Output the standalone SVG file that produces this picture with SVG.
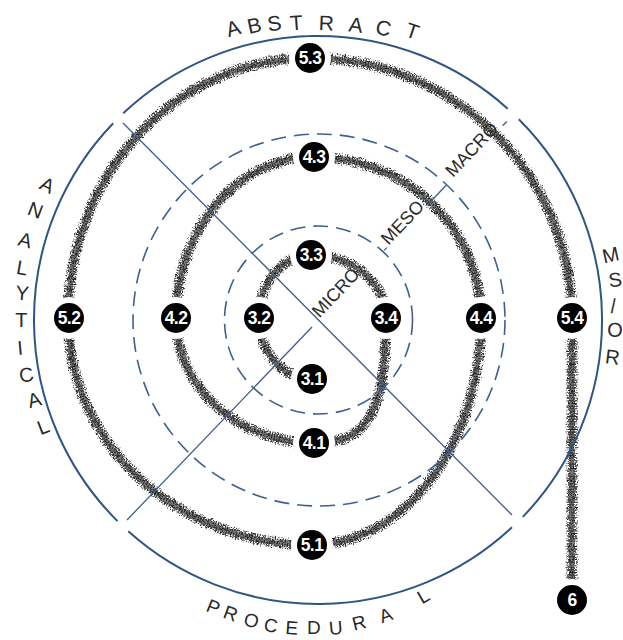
<svg xmlns="http://www.w3.org/2000/svg" xmlns:xlink="http://www.w3.org/1999/xlink" width="623" height="640" viewBox="0 0 623 640">
<style>
.ring{fill:none;stroke:#2f5584;stroke-width:2}
.diag{fill:none;stroke:#3d5f8c;stroke-width:1.3}
.dash{fill:none;stroke:#3e6090;stroke-width:1.6;stroke-dasharray:15 8}
.sp1{fill:none;stroke:#7a7a7a;stroke-width:6}
.sp2{fill:none;stroke:#262626;stroke-width:11;stroke-dasharray:1.1 1.5}
.lbl{font-family:"Liberation Sans",Arial,sans-serif;fill:#2a2a2a}
.node circle{fill:#000;stroke:#fff;stroke-width:12;paint-order:stroke}
.node text{font-family:"Liberation Sans",Arial,sans-serif;font-weight:bold;font-size:17.5px;fill:#fff;text-anchor:middle;letter-spacing:-0.6px}
</style>
<defs>
<filter id="rough" x="-10%" y="-10%" width="120%" height="120%">
<feTurbulence type="fractalNoise" baseFrequency="0.7" numOctaves="2" seed="3" result="n"/>
<feDisplacementMap in="SourceGraphic" in2="n" scale="4.5" xChannelSelector="R" yChannelSelector="G"/>
</filter>
<path id="spiral" d="M312,379 A53,61 0 0 1 259,318 A52,63 0 0 1 311,255 A75,63 0 0 1 386,318 C386,412 368,443 314,443 A138,125 0 0 1 176,318 A138,161 0 0 1 314,157 A167,161 0 0 1 481,318 A169,227 0 0 1 312,545 A244,227 0 0 1 68,318 A242,260 0 0 1 310,58 A262,260 0 0 1 572,318 L572,600"/>
</defs>
<rect width="623" height="640" fill="#fff"/>

<g id="connectors">
<g filter="url(#rough)">
<use xlink:href="#spiral" class="sp1"/>
<use xlink:href="#spiral" class="sp2"/>
</g>
</g>

<g id="frame">
<path class="ring" d="M123.2,113.3 A284,284 0 0 1 507.7,108.7"/>
<path class="ring" d="M518.8,119.2 A284,284 0 0 1 522.8,516.9"/>
<path class="ring" d="M512,527.3 A284,284 0 0 1 128.3,531.3"/>
<path class="ring" d="M117.5,521.1 A284,284 0 0 1 113.2,123.2"/>
<circle class="dash" cx="318.5" cy="320" r="94"/>
<circle class="dash" cx="319" cy="320" r="186"/>
<line class="diag" x1="123" y1="123" x2="512" y2="515"/>
<line class="diag" x1="127" y1="520" x2="312" y2="327"/>
<line class="diag" x1="384.1" y1="250.4" x2="386.9" y2="247.6"/>
<line class="diag" x1="427.6" y1="204.8" x2="446.2" y2="185.2"/>
<line class="diag" x1="502.7" y1="125.8" x2="506.8" y2="121.5"/>
</g>

<g id="scale-labels" class="lbl" font-size="18">
<text transform="translate(319.4,318.6) rotate(-46.4)">MICRO</text>
<text transform="translate(388.6,245.7) rotate(-46.4)">MESO</text>
<text transform="translate(453,178) rotate(-46.4)">MACRO</text>
</g>

<g id="side-labels" class="lbl">
<text font-size="21" x="228.6 249.0 268.5 290.4 318.6 348.0 374.4 404.0" y="37.2 33.9 31.5 30.6 29.9 31.2 33.4 35.9" rotate="-16.4 -12.4 -8.4 -4.2 2.1 7.4 12.7 18.4">ABSTRACT</text>
<text font-size="20" x="38.3 26.2 17.1 15.6 15.1 15.2 18 20.5 29.7 40.5" y="188.3 213.9 244.9 273.8 299.2 326.8 355 383 408.3 435.3" rotate="26.5 21.2 15.3 10 5.2 0 -5.4 -10.7 -15.7 -21.3">ANALYTICAL</text>
<text font-size="20" x="604.0 609.6 610.7 607.0 604.4" y="263.4 287.6 312.9 336.6 362.9" rotate="-12.5 -7.7 -2.7 1.9 7.2">MS/OR</text>
<text font-size="19" x="205.0 222.0 242.5 263.0 285.0 307.0 329.5 354.0 382.0 422.0" y="610.7 617.3 624.8 630.7 634.0 634.4 635.0 630.8 623.6 604.6" rotate="22 20 16 10 4 0 -5 -14 -20 -30">PROCEDURAL</text>
</g>

<g id="n3-1" class="node"><circle cx="312" cy="379" r="15"/><text x="312" y="385">3.1</text></g>
<g id="n3-2" class="node"><circle cx="259" cy="318" r="15"/><text x="259" y="324">3.2</text></g>
<g id="n3-3" class="node"><circle cx="311" cy="255" r="15"/><text x="311" y="261">3.3</text></g>
<g id="n3-4" class="node"><circle cx="386" cy="318" r="15"/><text x="386" y="324">3.4</text></g>
<g id="n4-1" class="node"><circle cx="314" cy="443" r="15"/><text x="314" y="449">4.1</text></g>
<g id="n4-2" class="node"><circle cx="176" cy="318" r="15"/><text x="176" y="324">4.2</text></g>
<g id="n4-3" class="node"><circle cx="314" cy="157" r="15"/><text x="314" y="163">4.3</text></g>
<g id="n4-4" class="node"><circle cx="481" cy="318" r="15"/><text x="481" y="324">4.4</text></g>
<g id="n5-1" class="node"><circle cx="312" cy="545" r="15"/><text x="312" y="551">5.1</text></g>
<g id="n5-2" class="node"><circle cx="69" cy="318" r="15"/><text x="69" y="324">5.2</text></g>
<g id="n5-3" class="node"><circle cx="310" cy="58" r="15"/><text x="310" y="64">5.3</text></g>
<g id="n5-4" class="node"><circle cx="572" cy="318" r="15"/><text x="572" y="324">5.4</text></g>
<g id="n6" class="node"><circle cx="572" cy="600" r="15"/><text x="572" y="606">6</text></g>
</svg>
